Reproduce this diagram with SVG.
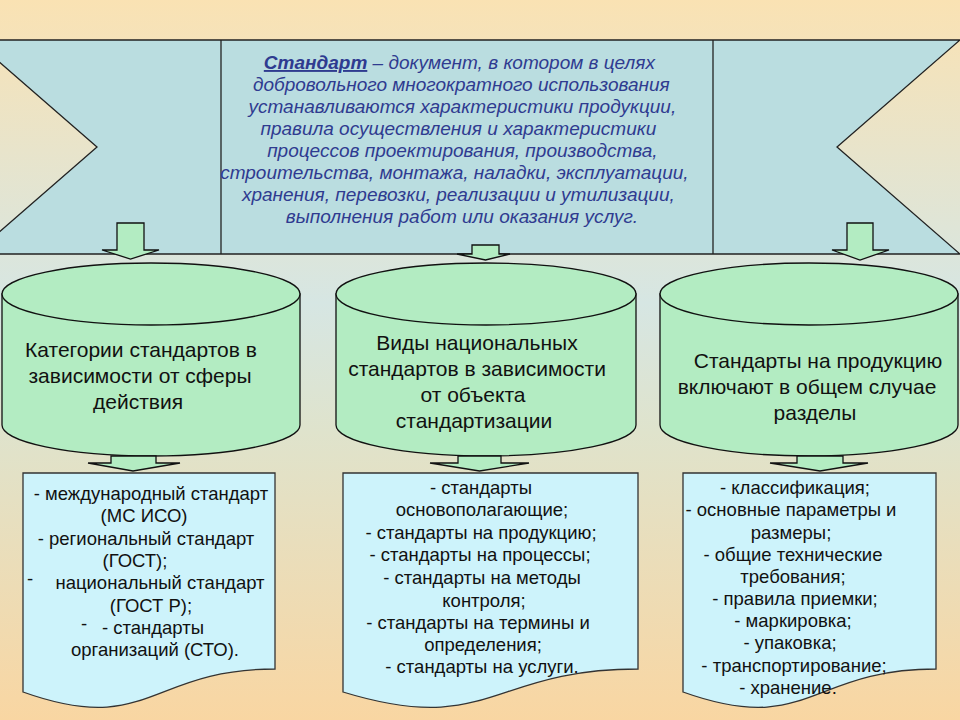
<svg xmlns="http://www.w3.org/2000/svg" width="960" height="720" viewBox="0 0 960 720">
<defs>
<linearGradient id="bg" x1="0" y1="0" x2="0" y2="1">
<stop offset="0" stop-color="#fae2b3"/>
<stop offset="0.42" stop-color="#d6e6e3"/>
<stop offset="0.6" stop-color="#dfe3cc"/>
<stop offset="1" stop-color="#f9d6a2"/>
</linearGradient>
<style>
.ban{fill:#badde0;stroke:#222;stroke-width:1.3}
.cyl{fill:#b3ecc2;stroke:#111;stroke-width:1.3}
.doc{fill:#cdf3fb;stroke:#333;stroke-width:1.3}
.arr{fill:#b3ecc2;stroke:#111;stroke-width:1.3;stroke-linejoin:miter}
.def{font-family:"Liberation Sans",Arial,sans-serif;font-style:italic;font-size:19px;fill:#2f3b90;text-anchor:middle}
.ct{font-family:"Liberation Sans",Arial,sans-serif;font-size:21px;fill:#111;text-anchor:middle}
.dt{font-family:"Liberation Sans",Arial,sans-serif;font-size:18.5px;fill:#111;text-anchor:middle}
.bul{font-family:"Liberation Sans",Arial,sans-serif;font-size:18.5px;fill:#111}
</style>
</defs>
<rect width="960" height="720" fill="url(#bg)"/>

<g id="banner">
<polygon class="ban" points="-26,40 960,40 837,147 960,254 -26,254 97,147"/>
<line x1="221" y1="40" x2="221" y2="254" stroke="#222" stroke-width="1.3"/>
<line x1="713" y1="40" x2="713" y2="254" stroke="#222" stroke-width="1.3"/>
<text class="def">
<tspan x="462" y="69"><tspan font-weight="bold" text-decoration="underline">Стандарт</tspan> – документ, в котором в целях</tspan>
<tspan x="464" y="91">добровольного многократного использования</tspan>
<tspan x="465" y="113">устанавливаются характеристики продукции,</tspan>
<tspan x="461" y="135">правила осуществления и характеристики</tspan>
<tspan x="465" y="157">процессов проектирования, производства,</tspan>
<tspan x="457" y="179">строительства, монтажа, наладки, эксплуатации,</tspan>
<tspan x="461" y="201">хранения, перевозки, реализации и утилизации,</tspan>
<tspan x="462" y="223">выполнения работ или оказания услуг.</tspan>
</text>
</g>

<g id="cyl1">
<path class="cyl" d="M2,294 V425 A149,31 0 0 0 300,425 V294 Z"/>
<ellipse class="cyl" cx="151" cy="294" rx="149" ry="31"/>
<text class="ct"><tspan x="141" y="357">Категории стандартов в</tspan><tspan x="140" y="383">зависимости от сферы</tspan><tspan x="138" y="409">действия</tspan></text>
</g>

<g id="cyl2">
<path class="cyl" d="M336,294 V425 A150,31 0 0 0 636,425 V294 Z"/>
<ellipse class="cyl" cx="486" cy="294" rx="150" ry="31"/>
<text class="ct"><tspan x="477" y="350">Виды национальных</tspan><tspan x="477" y="376">стандартов в зависимости</tspan><tspan x="473" y="402">от объекта</tspan><tspan x="474" y="428">стандартизации</tspan></text>
</g>

<g id="cyl3">
<path class="cyl" d="M660,294 V425 A149,31 0 0 0 958,425 V294 Z"/>
<ellipse class="cyl" cx="809" cy="294" rx="149" ry="31"/>
<text class="ct"><tspan x="818" y="368">Стандарты на продукцию</tspan><tspan x="807" y="394">включают в общем случае</tspan><tspan x="815" y="420">разделы</tspan></text>
</g>

<g id="doc1">
<path class="doc" d="M23,473 H275 V669 C149,669 149,737 23,692 Z"/>
<text class="dt"><tspan x="151" y="500">- международный стандарт</tspan><tspan x="144" y="522">(МС ИСО)</tspan><tspan x="146" y="545">- региональный стандарт</tspan><tspan x="135" y="567">(ГОСТ);</tspan><tspan x="160" y="589">национальный стандарт</tspan><tspan x="151" y="612">(ГОСТ Р);</tspan><tspan x="153" y="634">- стандарты</tspan><tspan x="155" y="656">организаций (СТО).</tspan></text>
<text class="bul" x="27" y="585">-</text>
<text class="bul" x="81" y="630">-</text>
</g>

<g id="doc2">
<path class="doc" d="M343,473 H638 V669 C490,669 490,737 343,692 Z"/>
<text class="dt"><tspan x="481" y="494">- стандарты</tspan><tspan x="482" y="516">основополагающие;</tspan><tspan x="481" y="539">- стандарты на продукцию;</tspan><tspan x="480" y="561">- стандарты на процессы;</tspan><tspan x="482" y="584">- стандарты на методы</tspan><tspan x="484" y="607">контроля;</tspan><tspan x="478" y="629">- стандарты на термины и</tspan><tspan x="483" y="651">определения;</tspan><tspan x="482" y="673">- стандарты на услуги.</tspan></text>
</g>

<g id="doc3">
<path class="doc" d="M683,473 H936 V669 C809,669 809,737 683,692 Z"/>
<text class="dt"><tspan x="795" y="494">- классификация;</tspan><tspan x="791" y="516">- основные параметры и</tspan><tspan x="791" y="539">размеры;</tspan><tspan x="793" y="561">- общие технические</tspan><tspan x="793" y="583">требования;</tspan><tspan x="795" y="605">- правила приемки;</tspan><tspan x="793" y="627">- маркировка;</tspan><tspan x="790" y="649">- упаковка;</tspan><tspan x="794" y="672">- транспортирование;</tspan><tspan x="788" y="694">- хранение.</tspan></text>
</g>

<g id="connectors">
<polygon class="arr" points="117,223 144,223 144,250 159,250 130.5,259 102,250 117,250"/>
<polygon class="arr" points="472,245 499,245 499,254 510,254 485.5,260 457,254 472,254"/>
<polygon class="arr" points="847,223 873,223 873,250 889,250 860,260 832,250 847,250"/>
<polygon class="arr" points="111,456 156,456 156,463 180,463 133,471 88,463 111,463"/>
<polygon class="arr" points="458,456 501,456 501,463 529,463 479.5,471 430,463 458,463"/>
<polygon class="arr" points="797,456 843,456 843,463 868,463 820,471 770,463 797,463"/>
</g>
</svg>
